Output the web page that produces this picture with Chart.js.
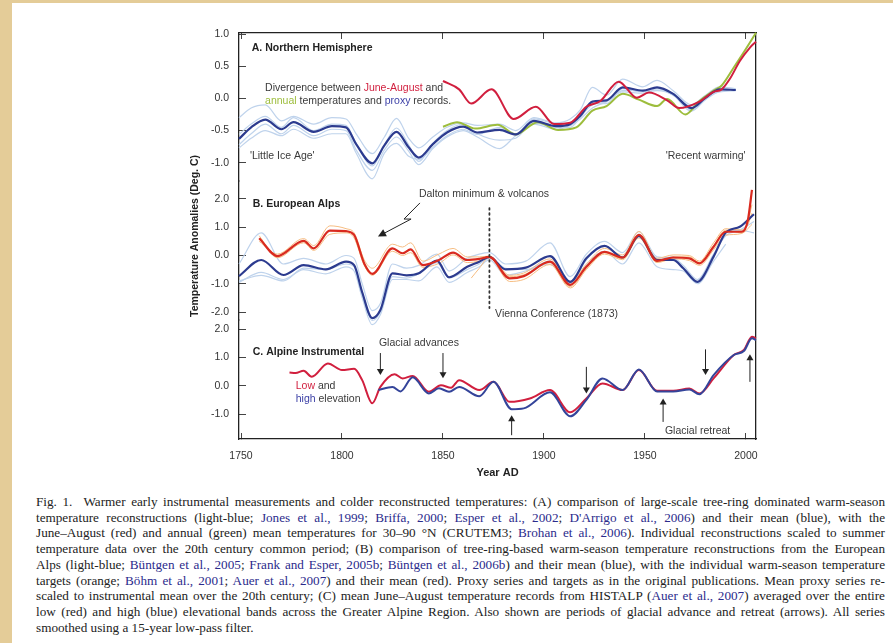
<!DOCTYPE html>
<html><head><meta charset="utf-8">
<script src="https://cdn.jsdelivr.net/npm/chart.js@4.4.1/dist/chart.umd.min.js"></script>
<style>
html,body{margin:0;padding:0;}
body{width:893px;height:643px;background:#e4cc98;position:relative;overflow:hidden;}
#panel{position:absolute;left:12px;top:3px;right:0;bottom:0;background:#fff;}
#wrap{position:absolute;left:0;top:0;width:893px;height:485px;}
#cap{position:absolute;left:36px;top:494px;width:849px;font-family:"Liberation Serif","Times New Roman",serif;font-size:13.2px;line-height:15.7px;color:#222;}
#cap div{text-align:justify;text-align-last:justify;white-space:nowrap;}
#cap div.last{text-align-last:left;}
#cap span{color:#2b2b8c;}
</style></head>
<body>
<div id="panel"></div>
<div id="wrap"><canvas id="c" width="893" height="485"></canvas></div>
<div id="cap">
<div>Fig. 1.&nbsp; Warmer early instrumental measurements and colder reconstructed temperatures: (A) comparison of large-scale tree-ring dominated warm-season</div>
<div>temperature reconstructions (light-blue; <span>Jones et al., 1999</span>; <span>Briffa, 2000</span>; <span>Esper et al., 2002</span>; <span>D'Arrigo et al., 2006</span>) and their mean (blue), with the</div>
<div>June–August (red) and annual (green) mean temperatures for 30–90 °N (CRUTEM3; <span>Brohan et al., 2006</span>). Individual reconstructions scaled to summer</div>
<div>temperature data over the 20th century common period; (B) comparison of tree-ring-based warm-season temperature reconstructions from the European</div>
<div>Alps (light-blue; <span>Büntgen et al., 2005</span>; <span>Frank and Esper, 2005b</span>; <span>Büntgen et al., 2006b</span>) and their mean (blue), with the individual warm-season temperature</div>
<div>targets (orange; <span>Böhm et al., 2001</span>; <span>Auer et al., 2007</span>) and their mean (red). Proxy series and targets as in the original publications. Mean proxy series re-</div>
<div>scaled to instrumental mean over the 20th century; (C) mean June–August temperature records from HISTALP (<span>Auer et al., 2007</span>) averaged over the entire</div>
<div>low (red) and high (blue) elevational bands across the Greater Alpine Region. Also shown are periods of glacial advance and retreat (arrows). All series</div>
<div class="last">smoothed using a 15-year low-pass filter.</div>
</div>
<script>
// ---------- tick labels ----------
const tickYears = [1750, 1800, 1850, 1900, 1950, 2000];
const ticksA = [1.0, 0.5, 0.0, -0.5, -1.0];
const ticksB = [2.0, 1.0, 0.0, -1.0, -2.0];
const ticksC = [2.0, 1.0, 0.0, -1.0];

// ---------- Panel A: Northern Hemisphere ----------
const nhYears = [1749,1755,1762,1770,1776,1786,1795,1802,1807,1815,1821,1827,1833,1838,1845,1852,1860,1867,1878,1886,1895,1906,1913,1918,1924,1931,1939,1949,1956,1964,1973,1980,1987,1995];
const nhMean  = [-0.63,-0.45,-0.33,-0.48,-0.37,-0.52,-0.43,-0.45,-0.71,-1.01,-0.73,-0.52,-0.76,-0.92,-0.71,-0.53,-0.44,-0.53,-0.49,-0.56,-0.35,-0.43,-0.40,-0.27,-0.05,-0.03,0.17,0.12,0.17,0.07,-0.15,0.01,0.14,0.13];
const nhRecon1 = [-0.30,-0.15,-0.10,-0.35,-0.28,-0.40,-0.30,-0.32,-0.55,-0.86,-0.60,-0.31,-0.62,-0.77,-0.60,-0.45,-0.38,-0.42,-0.40,-0.50,-0.30,-0.38,-0.32,-0.18,0.17,0.05,0.30,0.18,0.28,0.12,-0.10,0.05,0.18,0.15];
const nhRecon2 = [-0.56,-0.40,-0.28,-0.45,-0.30,-0.50,-0.40,-0.42,-0.70,-1.05,-0.72,-0.46,-0.72,-0.98,-0.70,-0.50,-0.40,-0.55,-0.65,-0.62,-0.38,-0.45,-0.45,-0.30,-0.08,-0.08,0.15,0.10,0.12,0.05,-0.20,-0.02,0.12,null];
const nhRecon3 = [-0.72,-0.55,-0.40,-0.55,-0.42,-0.58,-0.48,-0.50,-0.80,-1.12,-0.80,-0.60,-0.82,-1.03,-0.78,-0.60,-0.50,-0.60,-0.78,-0.58,-0.40,-0.48,-0.42,-0.32,-0.15,-0.05,0.10,0.08,0.15,0.05,-0.12,0.03,0.10,0.12];
const nhRecon4 = [-0.77,-0.62,-0.50,-0.58,-0.48,-0.62,-0.55,-0.55,-0.85,-1.25,-0.85,-0.70,-0.90,-0.95,-0.76,-0.58,-0.48,-0.56,-0.45,-0.55,-0.32,-0.40,-0.42,-0.28,-0.10,-0.05,0.12,0.12,0.13,0.08,-0.18,0.00,0.15,null];
const nhJjaYears = [1850,1858,1864,1874,1885,1896,1905,1913,1921,1928,1937,1946,1952,1961,1967,1977,1984,1988,1992,1997,2002,2005];
const nhJja      = [0.27,0.14,-0.08,0.14,-0.32,-0.13,-0.40,-0.38,-0.13,-0.04,0.26,0.01,0.09,-0.03,-0.15,-0.05,0.10,0.14,0.30,0.58,0.79,0.88];
const nhAnnYears = [1850,1857,1866,1877,1886,1897,1907,1916,1924,1931,1939,1947,1956,1961,1970,1977,1984,1988,1994,1999,2005];
const nhAnn      = [-0.44,-0.37,-0.47,-0.41,-0.56,-0.37,-0.49,-0.45,-0.19,-0.12,0.07,-0.02,-0.12,-0.01,-0.25,-0.04,0.12,0.20,0.48,0.72,1.02];

// ---------- Panel B: European Alps ----------
const alpYears = [1749,1760,1771,1781,1792,1802,1806,1810,1815,1819,1825,1832,1838,1847,1853,1862,1868,1873,1881,1891,1903,1913,1921,1930,1939,1947,1956,1964,1969,1976,1984,1990,1997,2004];
const alpMean  = [-0.73,-0.16,-0.69,-0.34,-0.49,-0.22,-0.34,-1.30,-2.22,-1.93,-0.63,-0.70,-0.63,-0.18,-0.77,-0.40,-0.22,-0.05,-0.49,-0.43,-0.02,-0.93,-0.10,0.34,-0.07,0.69,-0.16,-0.16,-0.45,-0.93,-0.04,0.81,1.02,1.46];
const alpRecon1 = [-0.30,0.80,-0.30,-0.10,-0.30,0.00,-0.10,-1.00,-1.95,-1.70,-0.30,-0.45,-0.35,0.05,-0.55,-0.10,0.05,0.10,-0.30,-0.20,0.45,-0.75,0.05,0.50,0.10,0.85,-0.05,-0.10,-0.35,-0.85,0.05,0.70,0.90,1.20];
const alpRecon2 = [-0.95,-0.60,-0.85,-0.50,-0.65,-0.40,-0.55,-1.50,-2.45,-2.10,-0.85,-0.85,-0.90,-0.40,-0.95,-0.60,-0.40,-0.15,-0.70,-0.55,-0.30,-1.05,-0.35,0.15,-0.30,0.45,-0.40,-0.50,-0.55,-1.00,-0.20,0.40,null,null];
const alpRecon3 = [-0.90,-0.70,-0.90,-0.45,-0.50,-0.30,-0.40,-1.40,-2.30,-2.00,-0.75,-0.80,-0.65,-0.25,-0.80,-0.50,-0.30,-0.10,-0.45,-0.50,-0.20,-1.00,-0.15,0.35,-0.05,0.75,-0.10,-0.05,-0.45,-0.95,0.00,0.80,0.90,0.80];
const alpTgtYears = [1759,1768,1781,1786,1794,1802,1806,1811,1815,1825,1830,1834,1840,1848,1855,1862,1868,1873,1883,1890,1903,1913,1921,1930,1939,1947,1956,1964,1972,1977,1984,1990,1998,2001,2003];
const alpTgtMean  = [0.61,-0.02,0.52,0.25,0.88,0.86,0.73,-0.28,-0.65,0.25,0.08,0.22,-0.34,-0.16,0.10,-0.16,-0.12,-0.05,-0.81,-0.73,-0.22,-1.04,-0.40,0.13,-0.07,0.73,-0.19,-0.07,-0.10,-0.28,0.31,0.84,0.84,1.26,2.32];
const alpTarget1  = [0.50,0.05,0.60,0.35,1.05,0.95,0.80,-0.15,-0.45,0.40,0.30,0.45,-0.20,0.05,0.25,-0.05,-0.05,-0.02,-0.70,-0.62,-0.12,-0.95,-0.30,0.25,0.02,0.85,-0.10,0.02,0.00,-0.20,0.45,0.95,0.90,1.10,1.50];
const alpTarget2  = [0.70,-0.08,0.45,0.18,0.75,0.80,0.62,-0.35,-0.70,0.15,0.00,0.10,-0.42,-0.28,0.02,-0.25,-0.20,-0.08,-0.92,-0.85,-0.32,-1.15,-0.50,0.05,-0.15,0.62,-0.25,-0.12,-0.18,-0.35,0.20,0.72,0.78,1.20,1.80];
const alpTgt3Years = [1864,1868,1873,1883,1890,1903,1913,1921,1930,1939,1947,1956,1964,1972,1977,1984,1990,1998,2003];
const alpTarget3   = [-0.80,-0.45,-0.05,-0.75,-0.68,-0.25,-1.10,-0.45,0.10,-0.12,0.70,-0.22,-0.05,-0.05,-0.25,0.35,0.90,0.80,1.10];

// ---------- Panel C: Alpine Instrumental ----------
const lowYears = [1774,1777,1781,1785,1793,1800,1806,1810,1815,1819,1826,1830,1835,1843,1849,1854,1858,1868,1875,1883,1893,1903,1913,1921,1929,1939,1947,1956,1964,1972,1977,1984,1994,1999,2003,2005];
const lowElev  = [0.47,0.45,0.53,0.32,0.79,0.56,0.60,0.20,-0.62,-0.04,0.41,0.26,0.35,-0.21,0.02,-0.07,0.20,-0.15,0.14,-0.57,-0.45,-0.15,-0.94,-0.45,0.08,-0.15,0.56,-0.18,-0.18,-0.10,-0.27,0.26,1.09,1.27,1.74,1.68];
const highYears = [1818,1825,1829,1835,1843,1848,1853,1858,1868,1875,1884,1890,1903,1913,1921,1929,1939,1947,1956,1964,1972,1977,1984,1994,1999,2003,2005];
const highElev  = [-0.15,-0.04,-0.20,0.30,-0.27,-0.09,-0.21,-0.04,-0.37,0.14,-0.83,-0.80,-0.23,-1.08,-0.50,0.26,-0.15,0.58,-0.20,-0.20,-0.13,-0.30,0.38,1.09,1.23,1.68,1.62];
// glacial advance (down) / retreat (up) arrows
const advanceYears = [1819, 1850, 1921, 1980];
const retreatYears = [1884, 1959, 2002];

// ---------- colours ----------
const C_NAVY = '#2c3b8f', C_RED = '#d11f3e', C_RED_B = '#d92a1f', C_GREEN = '#9dbd3c',
      C_LBLUE = '#bfd3ec', C_ORANGE = '#f6bd82', C_TEXT = '#3a3a3a';

const pts = (xs, ys) => xs.map((x, i) => ({x: x, y: ys[i]}));
function line(xs, ys, color, width, yAxisID) {
  return {data: pts(xs, ys), borderColor: color, borderWidth: width, yAxisID: yAxisID, xAxisID: 'x',
    pointRadius: 0, cubicInterpolationMode: 'monotone', clip: false, fill: false, spanGaps: false};
}

const datasets = [
  // panel A
  line(nhJjaYears, nhJja, C_RED, 2, 'yA'),
  line(nhYears, nhMean, C_NAVY, 2.2, 'yA'),
  line(nhAnnYears, nhAnn, C_GREEN, 2, 'yA'),
  line(nhYears, nhRecon1, C_LBLUE, 1.2, 'yA'),
  line(nhYears, nhRecon2, C_LBLUE, 1.2, 'yA'),
  line(nhYears, nhRecon3, C_LBLUE, 1.2, 'yA'),
  line(nhYears, nhRecon4, C_LBLUE, 1.2, 'yA'),
  // panel B
  line(alpTgtYears, alpTgtMean, C_RED_B, 2.2, 'yB'),
  line(alpYears, alpMean, C_NAVY, 2.2, 'yB'),
  line(alpTgtYears, alpTarget1, C_ORANGE, 1, 'yB'),
  line(alpTgtYears, alpTarget2, C_ORANGE, 1, 'yB'),
  line(alpTgt3Years, alpTarget3, C_ORANGE, 1, 'yB'),
  line(alpYears, alpRecon1, C_LBLUE, 1.2, 'yB'),
  line(alpYears, alpRecon2, C_LBLUE, 1.2, 'yB'),
  line(alpYears, alpRecon3, C_LBLUE, 1.2, 'yB'),
  // panel C
  line(highYears, highElev, '#34449a', 2, 'yC'),
  line(lowYears, lowElev, C_RED, 2, 'yC')
];

const FAM = '"Liberation Sans", Arial, sans-serif';
const fixedTicks = arr => (s => { s.ticks = arr.map(v => ({value: v})); });
const frame = {display: true, color: '#222', width: 1.3};
function yPanel(min, max, ticks, weight, stackWeight) {
  return {type: 'linear', position: 'left', stack: 'panels', stackWeight: stackWeight, weight: weight,
    min: min, max: max, afterBuildTicks: fixedTicks(ticks),
    ticks: {callback: v => v.toFixed(1), padding: 17, color: '#333', font: {family: FAM, size: 10.5}},
    grid: {display: true, drawOnChartArea: false, drawTicks: true, tickLength: -7, color: '#444', lineWidth: 1},
    border: frame, afterFit: s => { s.width = 34; }};
}

// annotations in data units (panel axis, year, value)
const labels = [
  {ax: 'yA', x: 1755.3, y: 0.78, bold: true, parts: [['A. Northern Hemisphere', '#222']]},
  {ax: 'yA', x: 1761.9, y: 0.16, parts: [['Divergence between ', C_TEXT], ['June-August', C_RED], [' and', C_TEXT]]},
  {ax: 'yA', x: 1761.9, y: -0.04, parts: [['annual', C_GREEN], [' temperatures and ', C_TEXT], ['proxy', '#3b3fa6'], [' records.', C_TEXT]]},
  {ax: 'yA', x: 1754.4, y: -0.90, parts: [["'Little Ice Age'", C_TEXT]]},
  {ax: 'yA', x: 1960.3, y: -0.90, parts: [["'Recent warming'", C_TEXT]]},
  {ax: 'yB', x: 1755.8, y: 1.81, bold: true, parts: [['B. European Alps', '#222']]},
  {ax: 'yB', x: 1838.1, y: 2.18, parts: [['Dalton minimum & volcanos', C_TEXT]]},
  {ax: 'yB', x: 1875.8, y: -2.08, parts: [['Vienna Conference (1873)', C_TEXT]]},
  {ax: 'yC', x: 1755.8, y: 1.20, bold: true, parts: [['C. Alpine Instrumental', '#222']]},
  {ax: 'yC', x: 1818.3, y: 1.50, parts: [['Glacial advances', C_TEXT]]},
  {ax: 'yC', x: 1777.1, y: -0.01, parts: [['Low', C_RED], [' and', C_TEXT]]},
  {ax: 'yC', x: 1777.1, y: -0.47, parts: [['high', '#3b3fa6'], [' elevation', C_TEXT]]},
  {ax: 'yC', x: 1959.9, y: -1.59, parts: [['Glacial retreat', C_TEXT]]}
];
const arrowsC = [
  [advanceYears[0], 1.16, 0.38], [advanceYears[1], 1.16, 0.27], [retreatYears[0], -1.75, -1.04],
  [advanceYears[2], 0.67, -0.27], [retreatYears[1], -1.28, -0.45], [advanceYears[3], 1.29, 0.38],
  [retreatYears[2], 0.14, 1.12]
];
const daltonPath = [[1838.6, 1.86], [1830.7, 1.29], [1834.2, 1.29], [1817.8, 0.67]];
const viennaLine = [1873, 1.68, -1.86];

function head(ctx, x0, y0, x1, y1, len, half) {
  const a = Math.atan2(y1 - y0, x1 - x0);
  ctx.beginPath();
  ctx.moveTo(x1, y1);
  ctx.lineTo(x1 - len * Math.cos(a) + half * Math.sin(a), y1 - len * Math.sin(a) - half * Math.cos(a));
  ctx.lineTo(x1 - len * Math.cos(a) - half * Math.sin(a), y1 - len * Math.sin(a) + half * Math.cos(a));
  ctx.closePath();
  ctx.fill();
}

const annotate = {
  id: 'annotate',
  afterDatasetsDraw(chart) {
    const ctx = chart.ctx, X = chart.scales.x;
    ctx.save();
    ctx.textBaseline = 'middle';
    ctx.textAlign = 'left';
    for (const L of labels) {
      const Y = chart.scales[L.ax];
      let px = X.getPixelForValue(L.x);
      const py = Y.getPixelForValue(L.y);
      ctx.font = (L.bold ? 'bold 10.5px ' : '10.5px ') + FAM;
      for (const [t, c] of L.parts) {
        ctx.fillStyle = c;
        ctx.fillText(t, px, py);
        px += ctx.measureText(t).width;
      }
    }
    // glacial arrows
    ctx.strokeStyle = '#222'; ctx.fillStyle = '#222'; ctx.lineWidth = 1;
    const YC = chart.scales.yC;
    for (const [yr, v0, v1] of arrowsC) {
      const px = X.getPixelForValue(yr), p0 = YC.getPixelForValue(v0), p1 = YC.getPixelForValue(v1);
      const dir = p1 > p0 ? 1 : -1;
      ctx.beginPath(); ctx.moveTo(px, p0); ctx.lineTo(px, p1 - dir * 4); ctx.stroke();
      head(ctx, px, p0, px, p1, 6, 3.5);
    }
    // Dalton zigzag arrow
    const YB = chart.scales.yB;
    const P = daltonPath.map(([a, b]) => [X.getPixelForValue(a), YB.getPixelForValue(b)]);
    ctx.beginPath();
    ctx.moveTo(P[0][0], P[0][1]);
    for (let i = 1; i < P.length - 1; i++) ctx.lineTo(P[i][0], P[i][1]);
    const n = P.length - 1;
    const a = Math.atan2(P[n][1] - P[n-1][1], P[n][0] - P[n-1][0]);
    ctx.lineTo(P[n][0] - 5 * Math.cos(a), P[n][1] - 5 * Math.sin(a));
    ctx.stroke();
    head(ctx, P[n-1][0], P[n-1][1], P[n][0], P[n][1], 8, 4);
    // Vienna dotted line
    const vx = X.getPixelForValue(viennaLine[0]);
    ctx.setLineDash([1.6, 3.6]); ctx.lineCap = 'round'; ctx.lineWidth = 1.8; ctx.strokeStyle = '#333';
    ctx.beginPath(); ctx.moveTo(vx, YB.getPixelForValue(viennaLine[1])); ctx.lineTo(vx, YB.getPixelForValue(viennaLine[2])); ctx.stroke();
    ctx.restore();
  }
};

new Chart(document.getElementById('c'), {
  type: 'line',
  data: {datasets: datasets},
  plugins: [annotate],
  options: {
    responsive: false, animation: false, devicePixelRatio: 1,
    layout: {padding: {left: 189, right: 137, top: 33, bottom: 5}},
    plugins: {legend: {display: false}, tooltip: {enabled: false}},
    scales: {
      x: {type: 'linear', position: 'bottom', min: 1749, max: 2005, afterBuildTicks: fixedTicks(tickYears),
        ticks: {callback: v => String(v), padding: 17, color: '#333', font: {family: FAM, size: 10.5}, maxRotation: 0, autoSkip: false},
        grid: {display: true, drawOnChartArea: false, drawTicks: true, tickLength: -6, color: '#444'},
        border: frame,
        title: {display: true, text: 'Year AD', color: '#222', font: {family: FAM, size: 11, weight: 'bold'}, padding: 0},
        afterFit: s => { s.height = 41; }},
      xTop: {type: 'linear', position: 'top', min: 1749, max: 2005, afterBuildTicks: fixedTicks(tickYears),
        ticks: {display: false},
        grid: {display: true, drawOnChartArea: false, drawTicks: true, tickLength: -6, color: '#444'},
        border: frame, afterFit: s => { s.height = 0; }},
      yTitle: {type: 'linear', position: 'left', weight: 10, ticks: {display: false}, grid: {display: false}, border: {display: false},
        title: {display: true, text: 'Temperature Anomalies (Deg. C)', color: '#222', font: {family: FAM, size: 10.5, weight: 'bold'}, padding: 0},
        afterFit: s => { s.width = 16; }},
      yA: yPanel(-1.284, 1.016, ticksA, 3, 148),
      yB: yPanel(-2.283, 2.637, ticksB, 2, 139),
      yC: yPanel(-1.885, 2.33, ticksC, 1, 119),
      yRight: {type: 'linear', position: 'right', ticks: {display: false}, grid: {display: false}, border: frame,
        afterFit: s => { s.width = 0; }}
    }
  }
});
</script>
</body></html>
